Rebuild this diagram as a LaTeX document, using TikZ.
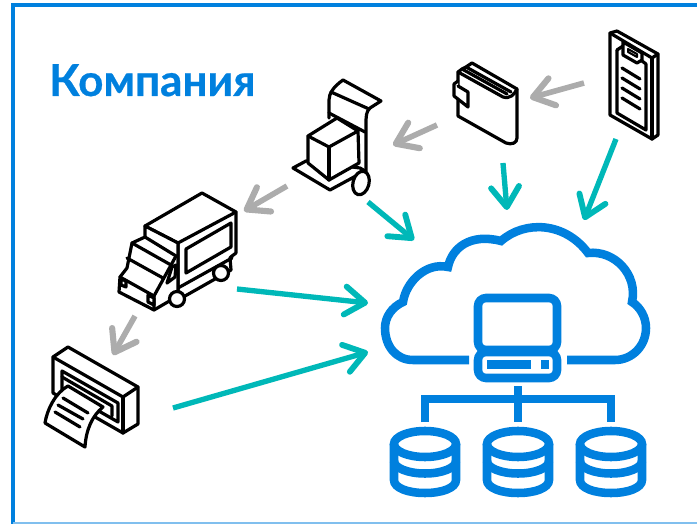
\documentclass[tikz,border=0pt]{standalone}
\usepackage{fontspec}
\usepackage{xcolor}
\usepackage{tikz}
\usetikzlibrary{arrows.meta}
\setmainfont{Lato}[FakeBold=0.6]
\definecolor{brandblue}{RGB}{0,128,222}
\definecolor{linkteal}{RGB}{0,184,184}
\definecolor{linkgray}{RGB}{172,172,172}
\tikzset{
  icon/.style={draw=black,line width=2.4pt,line join=round,line cap=round,fill=white},
  iconline/.style={draw=black,line width=2.4pt,line join=round,line cap=round},
  cloudline/.style={draw=brandblue,line width=6.4pt},
  grayflow/.style={draw=linkgray,line width=4.2pt,-{Straight Barb[length=15pt,width=21pt,line width=4.6pt,round]}},
  tealflow/.style={draw=linkteal,line width=4pt,-{Straight Barb[length=15pt,width=21pt,line width=4.4pt,round]}}
}
\begin{document}
\begin{tikzpicture}[x=0.75pt,y=0.75pt,yscale=-1,xscale=1]
\useasboundingbox (0,0) rectangle (697,524);

% frame
\draw [draw=brandblue,line width=3pt] (697,5.5) -- (13,5.5) -- (13,524) ;
\draw [draw=brandblue!50,line width=1pt] (13,523) -- (697,523) ;

\node (company) [anchor=base west,inner sep=0pt,text=brandblue,font=\fontsize{33}{33}\selectfont\bfseries] at (49,96) {Компания};

% clipboard
\draw [icon] (610,33) -- (617,31) -- (658,54) -- (658,135) -- (652,139) -- (610,115) -- cycle ;
\draw [iconline] (610,33) -- (652,58) -- (658,54) ;
\draw [iconline] (652,58) -- (652,139) ;
\draw [iconline] (617,50) -- (617,113) -- (646,130) -- (646,64) -- (642,61) ;
\draw [iconline] (617,50) -- (623,46) ;
\draw [icon] (623,42) -- (642,53) -- (642,60) -- (637,63) -- (623,55) -- cycle ;
\draw [iconline,line width=1.5pt] (628,49) -- (637,54) -- (637,57) -- (628,52) -- cycle ;
\draw [iconline] (622,68) -- (640,79) ;
\draw [iconline] (622,78) -- (640,89) ;
\draw [iconline] (622,88) -- (640,99) ;
\draw [iconline] (622,98) -- (640,109) ;

% wallet
\draw [icon] (458,72) -- (462,69) -- (466,67) -- (472,63) -- (517,89) -- (517,138) .. controls (517,143) and (512,145) .. (506,143) -- (458,116) -- cycle ;
\draw [iconline] (458,72) -- (503,97) .. controls (510,99) and (514,95) .. (517,89) ;
\draw [iconline] (462,69) -- (507,94) ;
\draw [iconline] (466,67) -- (511,92) ;
\draw [icon] (458,81) -- (454,84) -- (454,96) -- (468,107) -- (468,92) -- (458,86) ;

% hand cart
\draw [icon] (329,118) -- (329,100) .. controls (329,94) and (333,87) .. (343,80) -- (381,101) -- (370,108) .. controls (366,112) and (366,116) .. (366,125) -- (366,172) ;
\draw [iconline] (331,92) -- (369,109) ;
\draw [iconline] (329,113) -- (365,132) ;
\draw [icon] (293,168) -- (306,161) -- (360,168) -- (365,171) -- (330,190) -- cycle ;
\draw [icon] (308,136) -- (337,118) -- (358,131) -- (359,163) -- (329,180) -- (308,163) -- cycle ;
\draw [iconline] (308,136) -- (329,147) -- (358,131) ;
\draw [iconline] (329,147) -- (329,180) ;
\draw [icon] (361,183) ellipse [x radius=8,y radius=12,rotate=15] ;

% truck
\draw [icon] (145,226) -- (202,193) -- (236,212) -- (236,253) -- (232,256) -- (230,258) -- (231,270) -- (178,300) -- (178,243) -- cycle ;
\draw [iconline] (236,212) -- (178,243) ;
\draw [icon] (186,249) -- (231,223) -- (231,247) -- (186,273) -- cycle ;
\draw [iconline] (178,288) -- (232,258) ;
\draw [icon] (221,273) circle [radius=7.5] ;
\draw [icon] (145,226) -- (145,237) -- (132,243) -- (127,268) -- (120,277) -- (119,292) -- (154,310) -- (178,296) -- (178,243) -- cycle ;
\draw [iconline] (145,237) -- (176,256) ;
\draw [iconline] (132,243) -- (171,265) ;
\draw [iconline] (127,258) -- (163,278) ;
\draw [iconline] (120,277) -- (154,296) -- (154,310) ;
\draw [iconline] (154,296) -- (176,256) ;
\draw [icon] (167,283) -- (172,267) -- (176,265) -- (175,277) -- cycle ;
\draw [icon] (177,299) circle [radius=7.5] ;
\draw [icon] (121,279) -- (126,281) -- (126,287) -- (121,285) -- cycle ;
\draw [icon] (148,295) -- (154,298) -- (154,305) -- (148,302) -- cycle ;

% printer
\draw [icon] (53,357) -- (68,347) -- (138,387) -- (138,424) -- (123,433) -- (53,393) -- cycle ;
\draw [iconline] (53,357) -- (123,397) -- (138,387) ;
\draw [iconline] (123,397) -- (123,433) ;
\draw [icon] (62,371) -- (118,403) -- (118,422) -- (62,390) -- cycle ;
\draw [iconline] (62,377) -- (112,406) -- (112,416) ;
\draw [icon] (68,386) -- (103,407) .. controls (92,416) and (86,430) .. (85,447) -- (45,423) .. controls (47,410) and (55,393) .. (68,386) -- cycle ;
\draw [iconline] (63,398) -- (88,413) ;
\draw [iconline] (58,405) -- (83,419) ;
\draw [iconline] (55,412) -- (80,427) ;

% cloud
\draw [cloudline] (469,360) -- (413,360) .. controls (396,360) and (385,346) .. (385,328) .. controls (385,317) and (392,307) .. (403,302) .. controls (406,282) and (426,262) .. (448,267) .. controls (452,248) and (470,233) .. (501,241) .. controls (525,220) and (565,222) .. (588,253) .. controls (615,250) and (638,275) .. (632,302) .. controls (640,307) and (646,317) .. (646,328) .. controls (646,346) and (632,360) .. (615,360) -- (567,360) ;

% server
\draw [cloudline,rounded corners=6pt] (478,298) rectangle (557,350) ;
\draw [cloudline,rounded corners=6pt] (478,352) rectangle (557,378) ;
\fill [brandblue] (487,360) rectangle (531,369) ;
\fill [brandblue] (541,360) rectangle (549,369) ;

% tree
\draw [cloudline] (518,386) -- (518,422) ;
\draw [cloudline] (425,422) -- (425,399) -- (611,399) -- (611,422) ;

% disks
\draw [cloudline] (425,444) ellipse [x radius=31,y radius=13] ;
\draw [cloudline] (394,444) -- (394,480) .. controls (394,488) and (408,493) .. (425,493) .. controls (442,493) and (456,488) .. (456,480) -- (456,444) ;
\draw [cloudline] (394,461) .. controls (394,468) and (408,473.5) .. (425,473.5) .. controls (442,473.5) and (456,468) .. (456,461) ;

\draw [cloudline] (518,444) ellipse [x radius=31,y radius=13] ;
\draw [cloudline] (487,444) -- (487,480) .. controls (487,488) and (501,493) .. (518,493) .. controls (535,493) and (549,488) .. (549,480) -- (549,444) ;
\draw [cloudline] (487,461) .. controls (487,468) and (501,473.5) .. (518,473.5) .. controls (535,473.5) and (549,468) .. (549,461) ;

\draw [cloudline] (611,444) ellipse [x radius=31,y radius=13] ;
\draw [cloudline] (580,444) -- (580,480) .. controls (580,488) and (594,493) .. (611,493) .. controls (628,493) and (642,488) .. (642,480) -- (642,444) ;
\draw [cloudline] (580,461) .. controls (580,468) and (594,473.5) .. (611,473.5) .. controls (628,473.5) and (642,468) .. (642,461) ;

% flows
\coordinate (clipboardGray) at (584,83) ;
\coordinate (walletIn) at (530,98) ;
\coordinate (walletGray) at (437,125) ;
\coordinate (cartIn) at (393,145) ;
\coordinate (cartGray) at (287,186) ;
\coordinate (truckIn) at (244,211) ;
\coordinate (truckGray) at (135,316) ;
\coordinate (printerIn) at (113,355) ;
\coordinate (walletTeal) at (503,163) ;
\coordinate (cloudA) at (507,210) ;
\coordinate (clipboardTeal) at (616,139) ;
\coordinate (cloudB) at (584,220) ;
\coordinate (cartTeal) at (368,202) ;
\coordinate (cloudC) at (414,240) ;
\coordinate (truckTeal) at (237,289) ;
\coordinate (cloudD) at (368,303) ;
\coordinate (printerTeal) at (173,408) ;
\coordinate (cloudE) at (368,352) ;

\draw [grayflow] (clipboardGray) -- (walletIn) ;
\draw [grayflow] (walletGray) -- (cartIn) ;
\draw [grayflow] (cartGray) -- (truckIn) ;
\draw [grayflow] (truckGray) -- (printerIn) ;
\draw [tealflow] (walletTeal) -- (cloudA) ;
\draw [tealflow] (clipboardTeal) -- (cloudB) ;
\draw [tealflow] (cartTeal) -- (cloudC) ;
\draw [tealflow] (truckTeal) -- (cloudD) ;
\draw [tealflow] (printerTeal) -- (cloudE) ;
\end{tikzpicture}
\end{document}
